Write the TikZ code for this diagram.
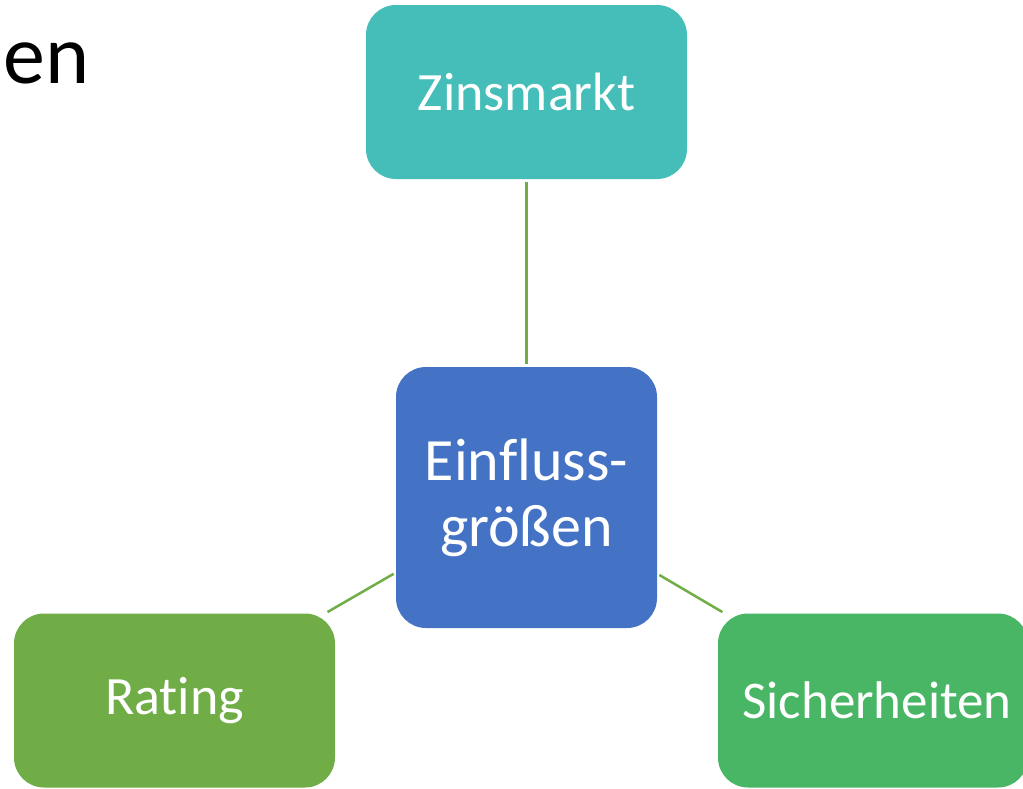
\documentclass[tikz,border=0pt]{standalone}
\usepackage{fontspec}
\setmainfont[Ligatures={NoCommon,NoRare}]{Carlito}
\definecolor{zteal}{HTML}{45BEBA}
\definecolor{cblue}{HTML}{4472C4}
\definecolor{rgreen}{HTML}{70AD47}
\definecolor{sgreen}{HTML}{48B665}
\definecolor{lgreen}{HTML}{70AD47}
\begin{document}
\begin{tikzpicture}[x=1pt,y=-1pt,
  boxstyle/.style={rectangle, rounded corners=30pt, inner sep=0pt, text=white},
  conn/.style={draw=lgreen, line width=2.5pt, shorten >=2.5pt, shorten <=2.5pt}]
\useasboundingbox (0,0) rectangle (1023,788);
\node[anchor=base west, inner sep=0pt, font=\fontsize{84}{84}\selectfont] (title) at (3,83) {en};
\node[boxstyle, fill=zteal, minimum width=321pt, minimum height=174pt,
  font=\fontsize{54}{60}\selectfont] (z) at (526.5,92) {Zinsmarkt};
\node[boxstyle, fill=cblue, minimum width=261pt, minimum height=261pt,
  align=center, font=\fontsize{60}{66}\selectfont] (c) at (526.5,497.5) {Einf\kern0pt luss-\\größen};
\node[boxstyle, fill=rgreen, minimum width=321pt, minimum height=174pt,
  font=\fontsize{54}{60}\selectfont] (r) at (174.5,700.5) {Rat\kern0pt ing};
\node[boxstyle, fill=sgreen, minimum width=310pt, minimum height=174pt] (s) at (873,700.5) {};
\node[text=white, inner sep=0pt, font=\fontsize{53}{60}\selectfont] (stext) at (877,700.5) {Sicherheiten};
\draw[conn] (z) -- (c);
\draw[conn] (c) -- (r);
\draw[conn] (c) -- (s);
\end{tikzpicture}
\end{document}
